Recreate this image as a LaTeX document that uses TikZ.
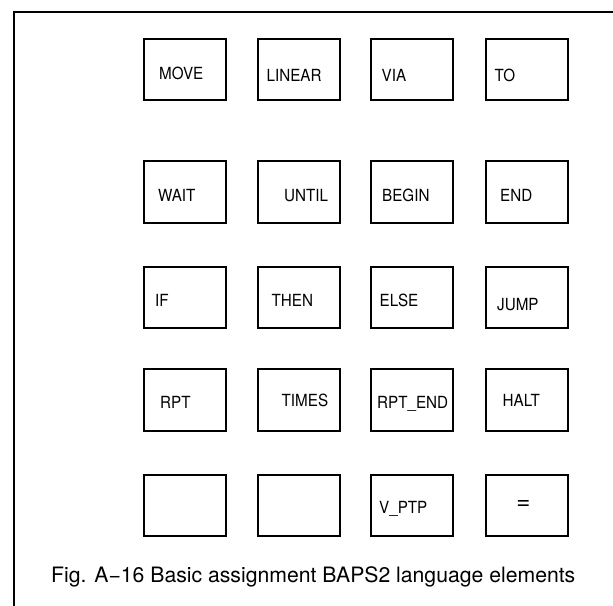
\documentclass[tikz,border=0pt]{standalone}
\usepackage{fontspec}
\setmainfont{TeX Gyre Heros}
\newcommand{\tallkey}[1]{\scalebox{1}[1.1]{#1}}
\begin{document}
\begin{tikzpicture}[x=1pt,y=-1pt,
  keybox/.style={draw=black,line width=2pt,minimum width=82pt,minimum height=61.5pt,inner sep=0pt},
  keylabel/.style={anchor=base west,inner sep=0pt,font=\fontsize{15.2}{18}\selectfont},
  frameline/.style={draw=black,line width=2pt},
  caption/.style={anchor=base west,inner sep=0pt,font=\fontsize{21.2}{25}\selectfont}]
\useasboundingbox (0,0) rectangle (613,605);
% open frame
\coordinate (fb) at (13.5,606);
\coordinate (fc) at (13.5,12);
\coordinate (fr) at (614,12);
\draw[frameline] (fb) -- (fc) -- (fr);
% boxes
\foreach \r/\y in {1/69.5,2/192.2,3/297.5,4/400,5/505.5}{
  \foreach \c/\x in {1/184.5,2/298.5,3/412,4/527}{
    \node[keybox] (b\r\c) at (\x,\y) {};
  }
}
% labels
\node[keylabel] (t11) at (159,79) {\tallkey{MOVE}};
\node[keylabel] (t12) at (266.5,81) {\tallkey{LINEAR}};
\node[keylabel] (t13) at (381.5,81) {\tallkey{VIA}};
\node[keylabel] (t14) at (494.5,81) {\tallkey{TO}};
\node[keylabel] (t21) at (158,201.5) {\tallkey{WAIT}};
\node[keylabel] (t22) at (284,201.5) {\tallkey{UNTIL}};
\node[keylabel] (t23) at (382,201.5) {\tallkey{BEGIN}};
\node[keylabel] (t24) at (500,201.5) {\tallkey{END}};
\node[keylabel] (t31) at (155,306.5) {\tallkey{IF}};
\node[keylabel] (t32) at (271.5,306.5) {\tallkey{THEN}};
\node[keylabel] (t33) at (379.5,306) {\tallkey{ELSE}};
\node[keylabel] (t34) at (497,310) {\tallkey{JUMP}};
\node[keylabel] (t41) at (160,408.5) {\tallkey{RPT}};
\node[keylabel] (t42) at (281.5,406) {\tallkey{TIMES}};
\node[keylabel] (t43) at (377,408.5) {\tallkey{RPT\_END}};
\node[keylabel] (t44) at (502.5,406) {\tallkey{HALT}};
\node[keylabel] (t53) at (379,513) {\tallkey{V\_PTP}};
\node[inner sep=0pt,font=\fontsize{24}{28}\selectfont] (t54) at (523.5,505) {=};
% caption
\node[caption] (cap) at (51,582) {Fig. A−16 Basic assignment BAPS2 language elements};
\end{tikzpicture}
\end{document}
